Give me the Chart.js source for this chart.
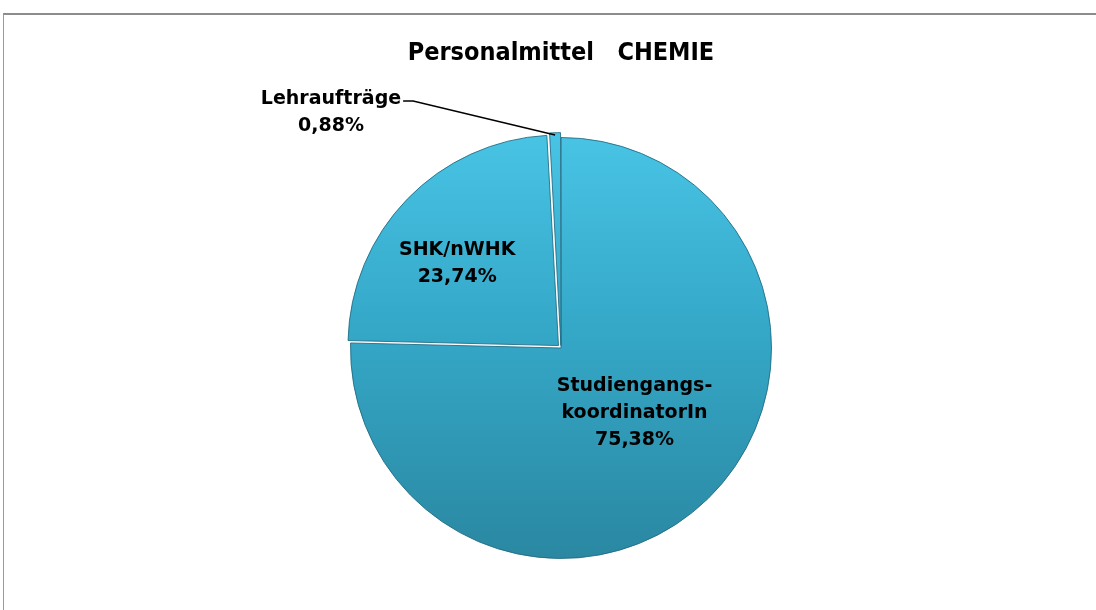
<!DOCTYPE html>
<html>
<head>
<meta charset="utf-8">
<script src="https://cdn.jsdelivr.net/npm/chart.js@4/dist/chart.umd.min.js"></script>
<style>
  html, body { margin: 0; padding: 0; background: #fff; }
  #frame {
    position: absolute; left: 3px; top: 13px; width: 1100px; height: 620px;
    border-left: 1px solid #9a9a9a; border-top: 2px solid #8c8c8c;
  }
  #wrap { position: absolute; left: 0; top: 0; width: 1096px; height: 610px; }
</style>
</head>
<body>
<div id="frame"></div>
<div id="wrap"><canvas id="myChart" width="1096" height="610"></canvas></div>
<script>
const titleText = 'Personalmittel   CHEMIE';
const sliceLabels = [['Studiengangs-', 'koordinatorIn'], ['SHK/nWHK'], ['Lehraufträge']];
const sliceValues = [75.38, 23.74, 0.88];
// chart.js moves an arc by offset / 4
const sliceOffsets = [0, 14, 10];

const pct = (v) => `${v.toFixed(2).replace('.', ',')}%`;

function pieFill(context) {
  const { chart } = context;
  const { ctx, chartArea } = chart;
  if (!chartArea) {
    return '#36a8c8';
  }
  const g = ctx.createLinearGradient(0, chartArea.top + 10, 0, chartArea.bottom - 10);
  g.addColorStop(0, '#48c3e4');
  g.addColorStop(0.45, '#35a8c8');
  g.addColorStop(1, '#2a88a2');
  return g;
}

// draws the slice labels, the small slice gets a leader line
const sliceLabelPlugin = {
  id: 'sliceLabels',
  afterDatasetsDraw(chart, args, opts) {
    const { ctx } = chart;
    const meta = chart.getDatasetMeta(0);
    ctx.save();
    ctx.font = opts.font;
    ctx.fillStyle = '#000';
    ctx.textBaseline = 'middle';
    meta.data.forEach((arc, i) => {
      const p = arc.getProps(['x', 'y', 'startAngle', 'endAngle', 'outerRadius'], true);
      const mid = (p.startAngle + p.endAngle) / 2;
      const lines = sliceLabels[i].concat(pct(sliceValues[i]));
      const lh = opts.lineHeight;
      const [sx, sy] = opts.shift[i];
      const off = sliceOffsets[i] / 4;
      if (opts.outside[i]) {
        const o = opts.outside[i];
        const rim = p.outerRadius + off;
        const ex = p.x + Math.cos(mid) * rim;
        const ey = p.y + Math.sin(mid) * rim;
        const kx = ex + o.dx;
        const ky = ey + o.dy;
        ctx.strokeStyle = '#000';
        ctx.lineWidth = 1.5;
        ctx.beginPath();
        ctx.moveTo(ex, ey);
        ctx.lineTo(kx, ky);
        ctx.lineTo(kx - 10, ky);
        ctx.stroke();
        const w = ctx.measureText(lines[0]).width;
        const cx = kx - 12 - w / 2;
        ctx.textAlign = 'center';
        lines.forEach((t, j) => ctx.fillText(t, cx + sx, ky - 4 + sy + j * lh));
        return;
      }
      const r = p.outerRadius * opts.radial[i];
      const cx = p.x + Math.cos(mid) * (r + off) + sx;
      const cy = p.y + Math.sin(mid) * (r + off) + sy;
      ctx.textAlign = 'center';
      const top = cy - ((lines.length - 1) * lh) / 2;
      lines.forEach((t, j) => ctx.fillText(t, cx, top + j * lh));
    });
    ctx.restore();
  },
};

const ctx = document.getElementById('myChart').getContext('2d');
const myChart = new Chart(ctx, {
  type: 'pie',
  data: {
    labels: sliceLabels.map((l) => l.join('')),
    datasets: [
      {
        data: sliceValues,
        backgroundColor: pieFill,
        borderColor: 'rgba(32, 105, 128, 0.85)',
        borderWidth: 1,
        offset: sliceOffsets,
      },
    ],
  },
  plugins: [sliceLabelPlugin],
  options: {
    responsive: false,
    animation: false,
    rotation: 0,
    layout: {
      padding: {
        left: 26,
        right: 0,
        top: 0,
        bottom: 44,
      },
    },
    plugins: {
      legend: { display: false },
      tooltip: { enabled: false },
      title: {
        display: true,
        text: titleText,
        color: '#000',
        font: {
          family: '"DejaVu Sans Condensed", "Liberation Sans Narrow", sans-serif',
          size: 25,
          weight: 'bold',
        },
        padding: { top: 38, bottom: 62 },
      },
      sliceLabels: {
        font: 'bold 19px "DejaVu Sans", sans-serif',
        lineHeight: 27,
        radial: [0.5, 0.67, 0],
        shift: [[0, -10], [0, 16], [0, 2]],
        outside: [null, null, { dx: -142, dy: -34 }],
      },
    },
  },
});
</script>
</body>
</html>
